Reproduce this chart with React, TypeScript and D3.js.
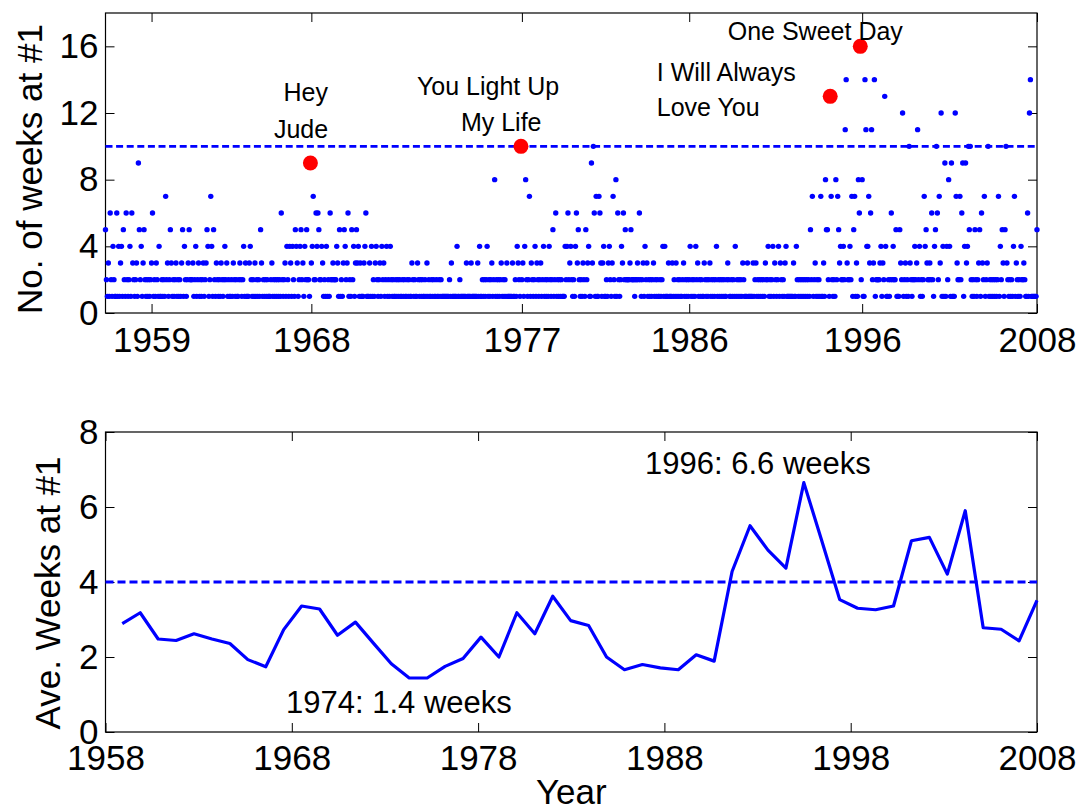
import React, { useEffect, useRef } from 'react';
import * as d3 from 'd3';

// weeks at #1 for every song, in chart order (x = song number)
const weeks1958to1967 = [
	5,2,1,3,1,6,2,1,4,2,1,1,6,1,4,1, 3,4,1,5,2,1,6,2,1,2,4,1,6,3,2,1,
	2,3,1,9,5,2,4,1,3,5,2,1,2,1,2,1, 2,3,6,1,2,1,3,2,1,4,1,1,2,1,2,1,
	7,2,3,1,2,5,3,1,2,1,2,3,1,2,1,2, 1,3,5,1,4,2,1,2,3,5,2,2,2,3,1,2,
	4,1,2,3,1,2,1,2,3,1,2,3,5,4,1,2, 7,4,1,5,2,1,3,2,1,2,1,3,2,1,2,4,
	2,3,1,2,1,1,2,1,3,2,1,2,1,1,2,3, 2,1,2,4,1,3,1,1,1,3,4,2,1,2,1,3,
	1,2,1,2,1,5,3,1,2,1,2,1,2,1,1,1, 2,3,1,2,1,2,1,2,1,2,1,6,2,1,2,3,
	1,4,2,1,4,3,1,4,2,1,5,4,3,1,2,4,
];
const weeks1968to1976 = [
	5,2,3,1,4,2,5,2,2,1,9,3,4,7,2,2, 6,4,6,5,2,2,4,3,1,2,1,4,1,2,1,6,
	2,2,3,2,2,2,4,3,1,5,1,2,1,3,5,4, 2,3,6,1,2,1,5,2,4,1,3,5,3,4,1,3,
	1,1,1,3,4,6,1,1,1,3,1,4,1,2,1,3, 4,2,1,2,3,1,4,2,3,1,2,4,1,2,1,4,
	2,1,2,1,1,2,1,2,1,2,1,1,2,1,2,1, 1,2,1,2,1,1,3,2,1,2,1,1,3,2,1,2,
	1,2,1,1,2,1,3,1,2,1,1,2,1,2,1,1, 2,1,1,2,1,2,1,1,1,1,1,1,1,1,2,1,
	3,1,1,1,1,1,4,1,1,2,1,1,1,1,1,1, 3,1,1,1,1,3,1,1,1,1,1,1,3,1,4,1,
	1,2,1,2,1,2,4,1,2,1,2,3,1,2,8,1, 2,1,2,1,2,3,1,2,1,2,1,3,1,1,1,1,
];
const weeks1977to1985 = [
	1,3,1,1,2,1,4,3,2,1,10,2,3,1,4,8, 2,1,2,7,1,3,2,1,2,4,1,3,2,1,2,3,
	1,2,4,1,2,1,2,1,4,2,1,2,5,1,2,6, 1,2,1,2,1,2,1,1,1,4,2,4,6,2,3,4,
	2,1,2,1,4,6,3,5,2,1,2,1,3,2,1,5, 2,3,4,1,1,9,3,10,6,1,7,1,1,7,6,3,
	1,3,4,1,1,2,1,3,4,2,1,3,7,2,1,8, 1,6,2,1,2,4,3,6,2,5,2,2,2,2,3,5,
	2,2,2,1,2,2,3,2,6,2,1,2,3,1,4,2, 3,1,2,1,2,1,2,3,1,2,1,2,1,1,2,1,
	2,4,1,4,1,1,1,3,1,1,1,3,1,2,1,3, 1,2,1,2,1,1,2,3,1,2,1,2,1,2,4,1,
];
const weeks1986to1995 = [
	2,1,2,1,4,2,3,1,2,1,2,1,1,3,2,1, 2,1,2,3,1,2,1,2,1,2,4,1,2,1,2,1,
	2,1,2,1,1,2,3,2,1,1,2,1,2,1,4,1, 2,1,2,1,2,1,3,2,1,1,1,3,1,1,1,1,
	1,3,1,2,3,1,2,1,2,1,2,1,2,1,3,2, 2,4,1,2,1,2,4,1,3,2,1,2,4,1,3,2,
	1,2,1,3,4,1,1,1,1,1,1,1,3,1,1,4, 2,1,2,1,2,1,2,1,2,1,2,1,2,1,5,2,
	7,1,2,3,1,2,1,2,1,7,1,1,3,1,8,5, 5,2,1,13,7,2,1,2,1,8,2,7,5,3,4,2,
	2,4,2,11,14,3,2,2,4,2,7,1,5,7,1,3,
];
const weeks1996to2008 = [
	1,8,6,16,2,8,1,1,14,11,4,4,7,3,6,11, 2,3,14,1,2,2,2,2,3,4,1,3,2,13,4,1,
	1,2,1,2,6,2,4,2,2,5,1,1,1,5,3,2, 12,1,2,3,1,2,1,10,3,2,1,2,2,4,2,3,
	11,2,4,1,2,1,2,7,4,5,3,2,2,3,2,6, 2,1,4,5,10,6,2,7,3,12,1,4,1,9,1,4,
	2,8,4,1,9,1,1,1,12,7,3,2,2,7,2,6, 9,1,4,9,3,4,10,5,10,2,1,2,1,5,2,1,
	2,3,5,1,6,3,2,7,1,2,3,10,1,2,1,2, 1,2,1,2,1,2,7,1,4,2,5,3,1,5,10,3,
	2,1,2,1,2,1,4,7,1,3,2,1,2,1,4,2, 2,3,2,1,1,6,1,12,14,1,1,1,1,1,1,5,
];

// song numbers of the labelled hits (Hey Jude, You Light Up My Life, I Will Always Love You, One Sweet Day)
const hitSongs = [219, 443, 772, 804];
const hitLabels = [['Hey', 'Jude'], ['You Light Up', 'My Life'], ['I Will Always', 'Love You'], ['One Sweet Day']];

// x tick labels of the top chart sit on song numbers
const songTicks = [50, 220, 444, 622, 806, 992];
const songTickLabels = ['1959', '1968', '1977', '1986', '1996', '2008'];

// average weeks at #1 per year
const years = [
	1958, 1959, 1960, 1961, 1962, 1963, 1964, 1965, 1966, 1967, 1968, 1969, 1970,
	1971, 1972, 1973, 1974, 1975, 1976, 1977, 1978, 1979, 1980, 1981, 1982, 1983,
	1984, 1985, 1986, 1987, 1988, 1989, 1990, 1991, 1992, 1993, 1994, 1995, 1996,
	1997, 1998, 1999, 2000, 2001, 2002, 2003, 2004, 2005, 2006, 2007, 2008, 2009,
];
const aveWeeks = [
	2.89, 3.18, 2.48, 2.44, 2.62, 2.48, 2.36, 1.93, 1.74, 2.73, 3.36, 3.28, 2.58,
	2.93, 2.37, 1.82, 1.44, 1.44, 1.75, 1.96, 2.53, 2.0, 3.18, 2.62, 3.62, 2.97,
	2.84, 2.0, 1.66, 1.8, 1.71, 1.66, 2.06, 1.89, 4.28, 5.5, 4.85, 4.37, 6.65,
	5.1, 3.53, 3.3, 3.26, 3.36, 5.1, 5.19, 4.21, 5.9, 2.78, 2.74, 2.43, 3.51,
];
const yearTicks = [1958, 1968, 1978, 1988, 1998, 2008];

function App() {
	const chart = useRef<SVGSVGElement>(null);

	const drawChart = () => {
		const svg = d3.select(chart.current);
		svg.selectAll('*').remove();

		const font = '"Liberation Sans", Arial, Helvetica, sans-serif';
		const blue = '#0000ff';
		const left = 105.5;
		const right = 1037;
		const top1 = 13;
		const bottom1 = 313;
		const top2 = 432;
		const bottom2 = 732;

		const weeks = [
			...weeks1958to1967,
			...weeks1968to1976,
			...weeks1977to1985,
			...weeks1986to1995,
			...weeks1996to2008,
		];

		// Scales

		const x1 = d3.scaleLinear().domain([1, weeks.length]).range([left, right]);
		const y1 = d3.scaleLinear().domain([0, 18]).range([bottom1, top1]);
		const x2 = d3.scaleLinear().domain([1958, 2008]).range([left, right]);
		const xLine = d3.scaleLinear().domain([1958, 2009]).range([x2(1958.9), right]);
		const y2 = d3.scaleLinear().domain([0, 8]).range([bottom2, top2]);

		const styleAxis = (g: any) => {
			g.select('.domain').remove();
			g.selectAll('line').attr('stroke', '#000');
			g.selectAll('text')
				.attr('fill', '#000')
				.style('font-family', font)
				.style('font-size', '35px');
		};

		const drawBox = (x: any, y: any, bottom: number, top: number, xTicks: number[], fmt: any, yTicks: number[], pad: number) => {
			svg.append('g')
				.attr('transform', `translate(0, ${bottom})`)
				.call(d3.axisBottom(x).tickValues(xTicks).tickFormat(fmt).tickSize(-9).tickSizeOuter(0).tickPadding(pad))
				.call(styleAxis);
			svg.append('g')
				.attr('transform', `translate(0, ${top})`)
				.call(d3.axisTop(x).tickValues(xTicks).tickFormat(() => '').tickSize(-9).tickSizeOuter(0))
				.call(styleAxis);
			svg.append('g')
				.attr('transform', `translate(${left}, 0)`)
				.call(d3.axisLeft(y).tickValues(yTicks).tickSize(-9).tickSizeOuter(0).tickPadding(7))
				.call(styleAxis);
			svg.append('g')
				.attr('transform', `translate(${right}, 0)`)
				.call(d3.axisRight(y).tickValues(yTicks).tickFormat(() => '').tickSize(-9).tickSizeOuter(0))
				.call(styleAxis);
			svg.append('rect')
				.attr('x', left)
				.attr('y', top)
				.attr('width', right - left)
				.attr('height', bottom - top)
				.attr('fill', 'none')
				.attr('stroke', '#000')
				.attr('stroke-width', 1.2);
		};

		svg.append('rect').attr('width', 1082).attr('height', 812).attr('fill', '#fff');

		// Top chart: weeks at #1 per song

		drawBox(x1, y1, bottom1, top1, songTicks, (d: number) => songTickLabels[songTicks.indexOf(d)], [0, 4, 8, 12, 16], 14);

		svg.append('g')
			.selectAll('circle')
			.data(weeks)
			.enter()
			.append('circle')
			.attr('cx', (d, i) => x1(i + 1))
			.attr('cy', (d) => y1(d))
			.attr('r', 2.7)
			.attr('fill', blue);

		svg.append('line')
			.attr('x1', left)
			.attr('x2', right)
			.attr('y1', y1(10))
			.attr('y2', y1(10))
			.attr('stroke', blue)
			.attr('stroke-width', 2.8)
			.attr('stroke-dasharray', '7,3.6');

		svg.append('g')
			.selectAll('circle')
			.data(hitSongs)
			.enter()
			.append('circle')
			.attr('cx', (d) => x1(d))
			.attr('cy', (d) => y1(weeks[d - 1]))
			.attr('r', 7.5)
			.attr('fill', '#ff0000');

		// label anchors in data units: [song number, weeks, anchor, line step in weeks, x shift of 2nd line in songs]
		const labelPos: [number, number, string, number, number][] = [
			[214, 12.7, 'middle', 2.2, -5],
			[408, 13.1, 'middle', 2.2, 14],
			[587.5, 13.9, 'start', 2.1, 0],
			[663, 16.4, 'start', 0, 0],
		];
		hitLabels.forEach((lines, k) => {
			const [sx, sy, anchor, step, shift] = labelPos[k];
			lines.forEach((line, j) => {
				svg.append('text')
					.attr('x', x1(sx + j * shift))
					.attr('y', y1(sy - j * step))
					.attr('text-anchor', anchor)
					.style('font-family', font)
					.style('font-size', '25px')
					.attr('fill', '#000')
					.text(line);
			});
		});

		svg.append('text')
			.attr('transform', `translate(42, 169) rotate(-90)`)
			.attr('text-anchor', 'middle')
			.style('font-family', font)
			.style('font-size', '35px')
			.attr('fill', '#000')
			.text('No. of weeks at #1');

		// Bottom chart: average weeks per year

		drawBox(x2, y2, bottom2, top2, yearTicks, d3.format('d'), [0, 2, 4, 6, 8], 13);

		svg.append('line')
			.attr('x1', left)
			.attr('x2', right)
			.attr('y1', y2(4))
			.attr('y2', y2(4))
			.attr('stroke', blue)
			.attr('stroke-width', 2.8)
			.attr('stroke-dasharray', '8,4');

		const line = d3
			.line<number>()
			.x((d, i) => xLine(years[i]))
			.y((d) => y2(d));

		svg.append('path')
			.datum(aveWeeks)
			.attr('d', line)
			.attr('fill', 'none')
			.attr('stroke', blue)
			.attr('stroke-width', 3.2)
			.attr('stroke-linejoin', 'round');

		svg.append('text')
			.attr('x', x2(1986.96))
			.attr('y', y2(6.87))
			.style('font-family', font)
			.style('font-size', '31px')
			.attr('fill', '#000')
			.text('1996: 6.6 weeks');

		svg.append('text')
			.attr('x', x2(1967.69))
			.attr('y', y2(0.51))
			.style('font-family', font)
			.style('font-size', '31px')
			.attr('fill', '#000')
			.text('1974: 1.4 weeks');

		svg.append('text')
			.attr('transform', `translate(60, 593) rotate(-90)`)
			.attr('text-anchor', 'middle')
			.style('font-family', font)
			.style('font-size', '35px')
			.attr('fill', '#000')
			.text('Ave. Weeks at #1');

		svg.append('text')
			.attr('x', (left + right) / 2)
			.attr('y', 804)
			.attr('text-anchor', 'middle')
			.style('font-family', font)
			.style('font-size', '35px')
			.attr('fill', '#000')
			.text('Year');
	};

	useEffect(() => {
		drawChart();
	}, []);

	return (
		<svg
			ref={chart}
			width={1082}
			height={812}
			style={{ position: 'absolute', left: 0, top: 0, display: 'block' }}
		></svg>
	);
}

export default App;
